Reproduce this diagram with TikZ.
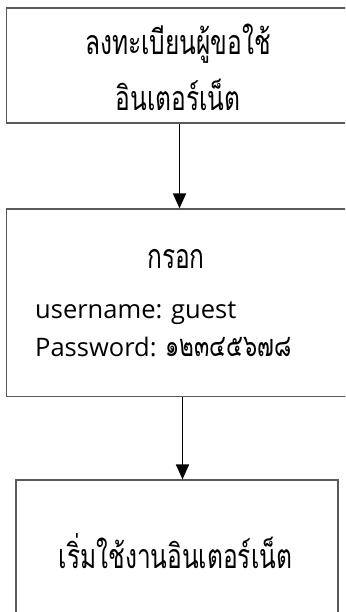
\documentclass[tikz,border=0pt]{standalone}
\usepackage{fontspec}
\setmainfont{Open Sans}
\newfontfamily\thaifont[Script=Thai,FakeStretch=0.72]{Loma}
\usetikzlibrary{arrows.meta}
\tikzset{
  box/.style={draw=black!65, line width=1.2pt, rectangle, inner sep=0pt},
  thtxt/.style={inner sep=0pt, font=\thaifont\fontsize{34}{40}\selectfont},
  latxt/.style={inner sep=0pt, font=\fontsize{25.5}{30}\selectfont},
  flow/.style={draw=black, line width=1.8pt, -{Triangle[length=15pt,width=13pt]}}
}
\begin{document}
\begin{tikzpicture}[x=1pt,y=-1pt]
\useasboundingbox (0,0) rectangle (345,612);
\clip (0,0) rectangle (345,612);
% first step
\node[box, minimum width=343.5pt, minimum height=115pt] (b1) at (178.25,65.5) {};
\node[thtxt, anchor=base] (t1a) at (178,55) {ลงทะเบียนผู้ขอใช้};
\node[thtxt, anchor=base] (t1b) at (178,111) {อินเตอร์เน็ต};
% second step
\node[box, minimum width=343.5pt, minimum height=187.5pt] (b2) at (178.25,302.75) {};
\node[thtxt, anchor=base] (t2a) at (176,268) {กรอก};
\node[latxt, anchor=base west] (t2b) at (35,318) {username: guest};
\node[latxt, anchor=base west] (t2c) at (35,356) {Password: {\thaifont\fontsize{31}{40}\selectfont ๑๒๓๔๕๖๗๘}};
% third step
\node[box, minimum width=322pt, minimum height=152pt] (b3) at (177,556) {};
\node[thtxt, anchor=base] (t3) at (175.5,568) {เริ่มใช้งานอินเตอร์เน็ต};
% connectors
\draw[flow] ([xshift=1.25pt]b1.south) -- ([xshift=1.25pt]b2.north);
\draw[flow] ([xshift=4.25pt]b2.south) -- ([xshift=5.5pt]b3.north);
\end{tikzpicture}
\end{document}
